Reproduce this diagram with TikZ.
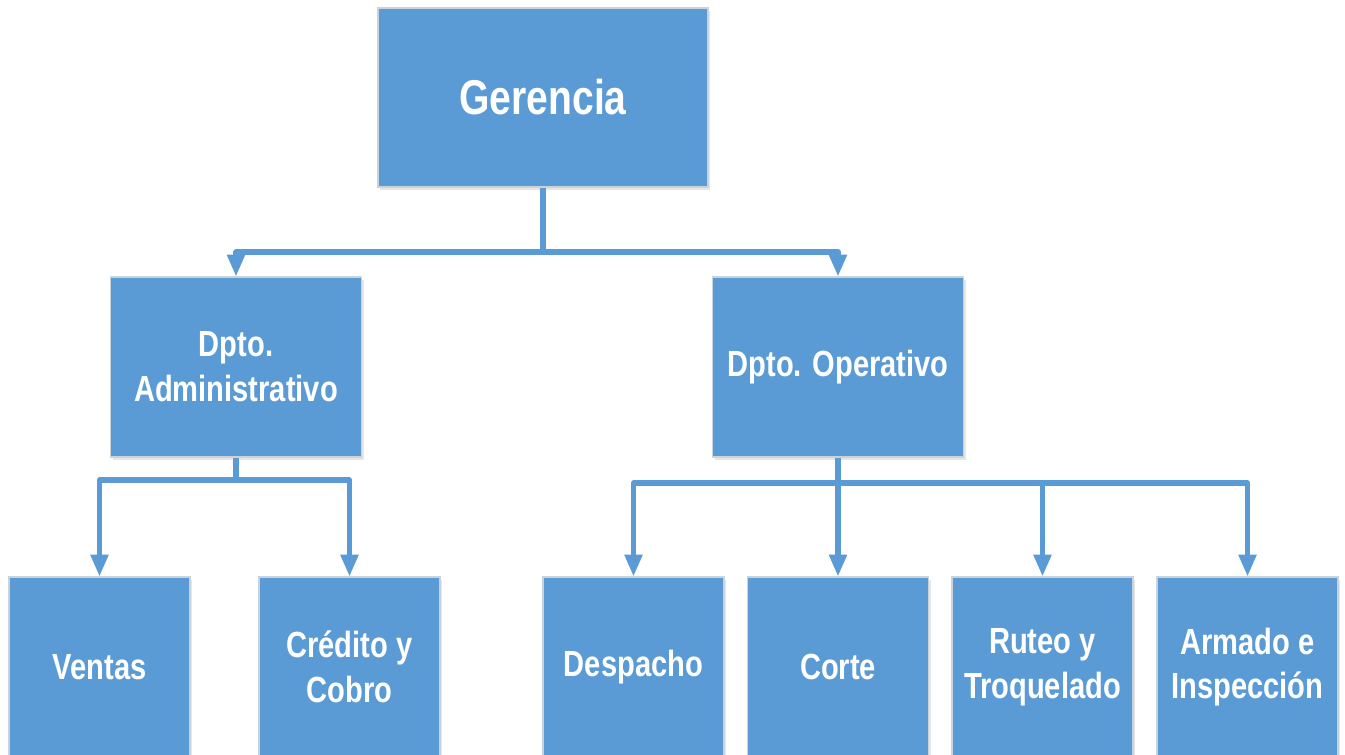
\documentclass[tikz,border=0pt]{standalone}
\usepackage{fontspec}
\setmainfont{Liberation Sans}[FakeStretch=0.8]
\usetikzlibrary{arrows.meta,shadows}
\definecolor{boxblue}{HTML}{5B9BD5}
\definecolor{boxedge}{HTML}{C9D3DC}
\tikzset{
  unitbox/.style={rectangle, fill=boxblue, draw=boxedge, line width=0.6pt,
    text=white, align=center, inner sep=0pt,
    font=\bfseries\fontsize{20.7}{25.5}\selectfont,
    drop shadow={opacity=0.2, shadow xshift=1.2pt, shadow yshift=-1.6pt}},
  topbox/.style={unitbox, minimum width=330*0.02cm, minimum height=179*0.02cm,
    font=\bfseries\fontsize{27.8}{32}\selectfont},
  deptbox/.style={unitbox, minimum width=251*0.02cm, minimum height=180*0.02cm},
  sectionbox/.style={unitbox, minimum width=181*0.02cm, minimum height=180*0.02cm},
  link/.style={draw=boxblue, line width=2.9pt, line join=round},
  linkarrow/.style={link, -{Triangle[width=9.8pt,length=12.5pt]}}
}
\begin{document}
\begin{tikzpicture}[x=0.02cm, y=-0.02cm]
  \useasboundingbox (0,0) rectangle (1345,754);
  % top level
  \node[topbox] (ger) at (543,97.5) {Gerencia};
  % departments
  \node[deptbox] (adm) at (236,367) {Dpto.\\Administrativo};
  \node[deptbox] (ope) at (838,367) {Dpto. Operativo};
  % sections
  \node[sectionbox] (ven) at (99.5,667) {Ventas};
  \node[sectionbox] (cre) at (349.5,667) {Crédito y\\Cobro};
  \node[sectionbox] (des) at (633.5,667) {Despacho};
  \node[sectionbox] (cor) at (838,667) {Corte};
  \node[sectionbox] (rut) at (1042.5,667) {Ruteo y\\Troquelado};
  \node[sectionbox] (arm) at (1247.5,667) {Armado e\\Inspección};
  % junction points of the connectors
  \coordinate (j1) at (543,252);
  \coordinate (j2) at (236,480);
  \coordinate (j3) at (838,483);
  % connectors
  \draw[link] (ger.south) -- (j1);
  \draw[linkarrow] (j1) -| (adm.north);
  \draw[linkarrow] (j1) -| (ope.north);
  \draw[link] (adm.south) -- (j2);
  \draw[linkarrow] (j2) -| (ven.north);
  \draw[linkarrow] (j2) -| (cre.north);
  \draw[link] (ope.south) -- (j3);
  \draw[linkarrow] (j3) -| (des.north);
  \draw[linkarrow] (j3) -- (cor.north);
  \draw[linkarrow] (j3) -| (rut.north);
  \draw[linkarrow] (j3) -| (arm.north);
\end{tikzpicture}
\end{document}
